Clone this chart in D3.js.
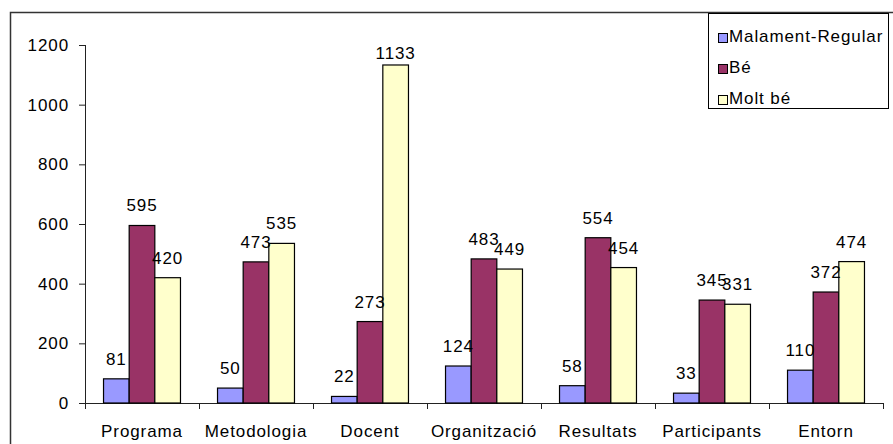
<!DOCTYPE html>
<html><head><meta charset="utf-8">
<script src="https://cdn.jsdelivr.net/npm/d3@7"></script>
<style>
body{margin:0;background:#fff;}
svg{display:block;font-family:"Liberation Sans",Arial,Helvetica,sans-serif;}
</style></head>
<body>
<script>
const categories = ["Programa","Metodologia","Docent","Organització","Resultats","Participants","Entorn"];
const seriesNames = ["Malament-Regular","Bé","Molt bé"];
const malamentRegular = [81,50,22,124,58,33,110];
const be = [595,473,273,483,554,345,372];
const moltBe = [420,535,1133,449,454,331,474];
const yTicks = [0,200,400,600,800,1000,1200];
const colors = ["#9999FF","#993366","#FFFFCC"];

const W = 893, H = 444;
const FS = "17px", LS = "0.9px";
const svg = d3.select("body").append("svg").attr("width",W).attr("height",H);

// outer frame
svg.append("rect").attr("x",10.5).attr("y",12.5).attr("width",W).attr("height",H)
  .attr("fill","none").attr("stroke","#333").attr("stroke-width",1.5);

const x0 = d3.scaleBand().domain(categories).range([85,883]).paddingInner(0.325).paddingOuter(0.1625);
const x1 = d3.scaleBand().domain(seriesNames).range([0,x0.bandwidth()]);
const y = d3.scaleLinear().domain([0,1200]).range([403,45]);

const series = [malamentRegular, be, moltBe];

// y axis
const yAxis = svg.append("g").attr("transform","translate(85,0)")
  .call(d3.axisLeft(y).tickValues(yTicks).tickSize(6).tickPadding(10).tickFormat(d3.format("d")));
yAxis.select(".domain").attr("stroke","#222").attr("d","M0.5,45V403.5");
yAxis.selectAll(".tick line").attr("stroke","#222");
yAxis.selectAll("text").attr("font-size",FS).attr("fill","#000").style("letter-spacing",LS)
  .attr("font-family","'Liberation Sans',Arial,sans-serif");

// x axis
const xAxisG = svg.append("g").attr("transform","translate(0,403)");
xAxisG.append("line").attr("x1",85).attr("x2",883.5).attr("y1",0.5).attr("y2",0.5).attr("stroke","#222");
const bounds = categories.map(c => x0(c) - x0.step()*x0.paddingInner()/2).concat([883]);
xAxisG.selectAll("line.t").data(bounds).enter().append("line")
  .attr("x1",d=>Math.round(d)+0.5).attr("x2",d=>Math.round(d)+0.5).attr("y1",0).attr("y2",6).attr("stroke","#222");
xAxisG.selectAll("text").data(categories).enter().append("text")
  .attr("x",d=>x0(d)+x0.bandwidth()/2).attr("y",34)
  .attr("text-anchor","middle").attr("font-size",FS).style("letter-spacing",LS).text(d=>d);

// bars
const flat = [];
categories.forEach((c,i)=>series.forEach((s,j)=>flat.push({c, s:seriesNames[j], v:s[i], j})));
svg.append("g").selectAll("rect").data(flat).enter().append("rect")
  .attr("x",d=>x0(d.c)+x1(d.s)).attr("width",x1.bandwidth())
  .attr("y",d=>y(d.v)).attr("height",d=>y(0)-y(d.v))
  .attr("fill",d=>colors[d.j]).attr("stroke","#000").attr("stroke-width",1.2);

// labels
svg.append("g").selectAll("text").data(flat).enter().append("text")
  .attr("x",d=>x0(d.c)+x1(d.s)+x1.bandwidth()/2)
  .attr("y",d=>Math.max(y(d.v)-14, 59))
  .attr("text-anchor","middle").attr("font-size",FS).style("letter-spacing",LS)
  .text(d=>d.v);

// legend
const lg = svg.append("g");
lg.append("rect").attr("x",708.5).attr("y",13.5).attr("width",180).attr("height",95)
  .attr("fill","#fff").attr("stroke","#000").attr("stroke-width",1);
const li = lg.selectAll("g").data(seriesNames).enter().append("g")
  .attr("transform",(d,i)=>`translate(718,${33+i*31})`);
li.append("rect").attr("x",0.5).attr("y",0.5).attr("width",9).attr("height",9)
  .attr("fill",(d,i)=>colors[i]).attr("stroke","#000");
li.append("text").attr("x",11).attr("y",9).attr("font-size",FS).style("letter-spacing",LS).text(d=>d);
</script>
</body></html>
